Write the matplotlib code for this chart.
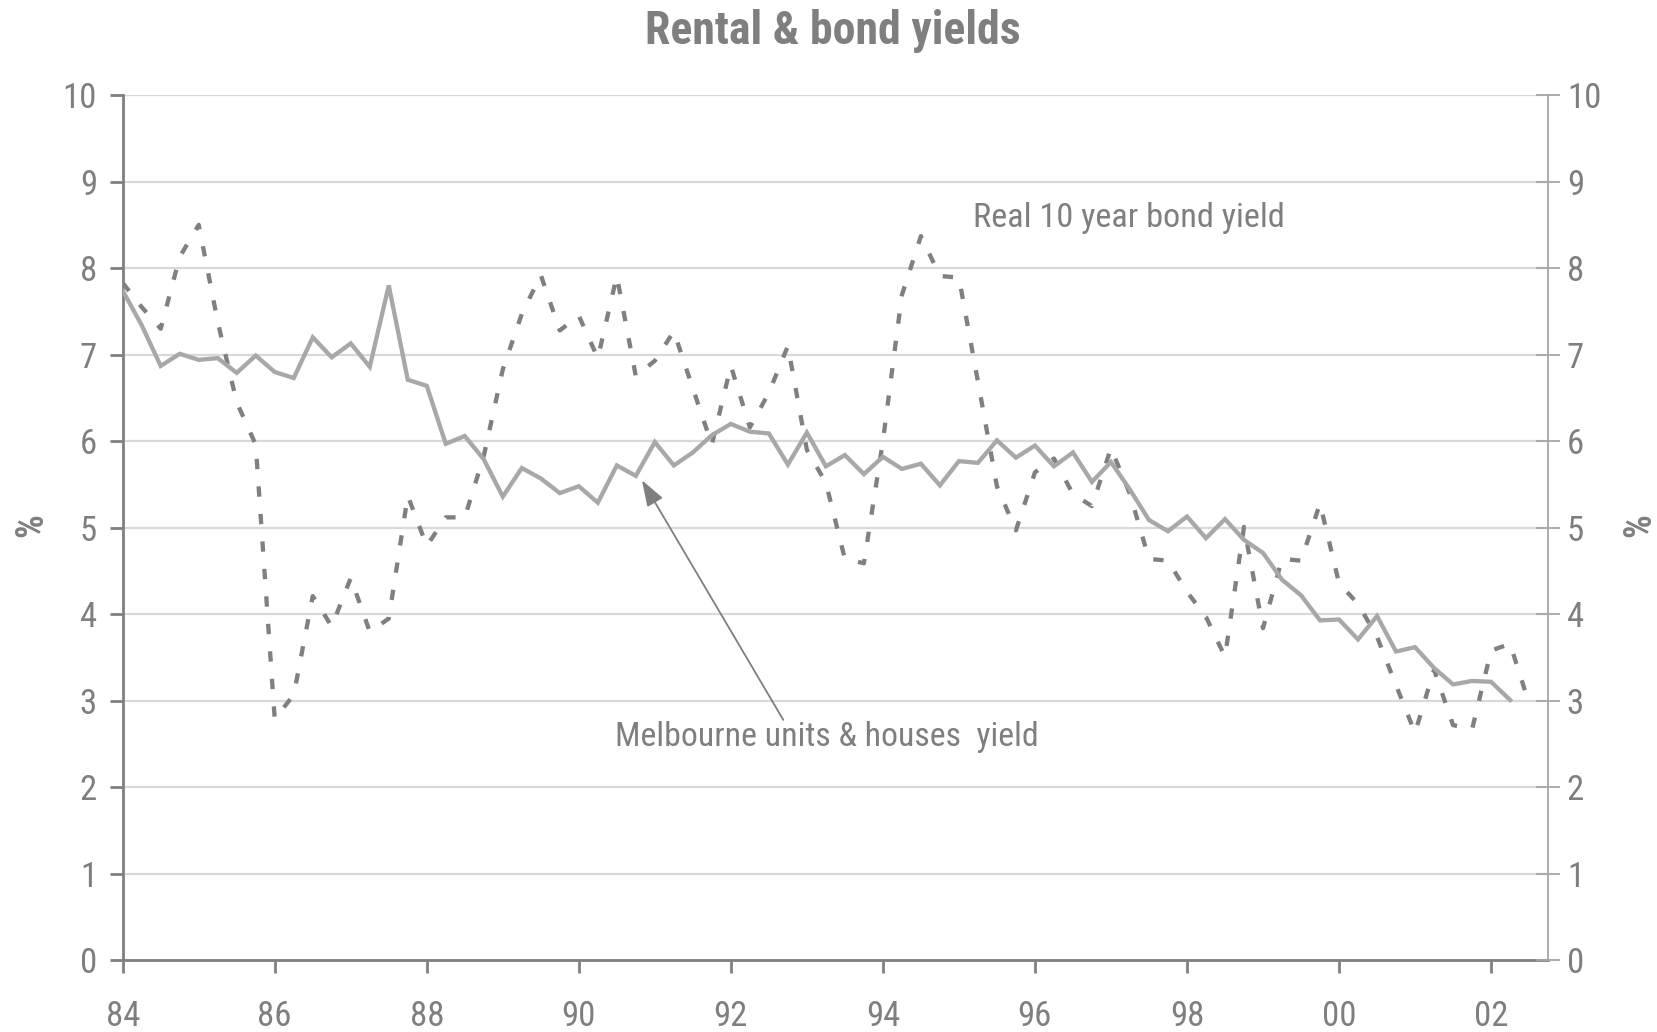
import numpy as np
import matplotlib
matplotlib.use("Agg")
import matplotlib.pyplot as plt
from matplotlib import font_manager

# Quarterly series starting 1984 Q1
start_year = 1984
melb_yield = [
    7.74, 7.34, 6.87, 7.01, 6.94, 6.96, 6.79, 6.99, 6.80, 6.73,
    7.20, 6.97, 7.13, 6.86, 7.80, 6.71, 6.64, 5.97, 6.06, 5.79,
    5.36, 5.69, 5.57, 5.40, 5.48, 5.29, 5.72, 5.60, 5.99, 5.72,
    5.87, 6.07, 6.20, 6.11, 6.09, 5.73, 6.10, 5.71, 5.84, 5.62,
    5.82, 5.68, 5.74, 5.49, 5.77, 5.75, 6.01, 5.81, 5.95, 5.71,
    5.87, 5.53, 5.76, 5.44, 5.09, 4.96, 5.13, 4.88, 5.10, 4.86,
    4.71, 4.40, 4.22, 3.93, 3.94, 3.71, 3.98, 3.57, 3.62, 3.38,
    3.19, 3.23, 3.22, 3.01,
]
bond_yield = [
    7.83, 7.55, 7.30, 8.13, 8.50, 7.38, 6.45, 5.96, 2.79, 3.07,
    4.21, 3.86, 4.42, 3.80, 3.95, 5.37, 4.79, 5.12, 5.12, 5.83,
    6.83, 7.47, 7.92, 7.28, 7.45, 6.96, 7.91, 6.75, 6.93, 7.27,
    6.61, 5.96, 6.87, 6.16, 6.56, 7.10, 5.90, 5.52, 4.64, 4.59,
    6.00, 7.69, 8.37, 7.91, 7.89, 6.69, 5.48, 4.97, 5.64, 5.80,
    5.39, 5.25, 5.92, 5.39, 4.64, 4.62, 4.26, 3.97, 3.51, 5.01,
    3.84, 4.64, 4.62, 5.28, 4.36, 4.12, 3.74, 3.18, 2.63, 3.36,
    2.72, 2.67, 3.58, 3.66, 2.97,
]
tick_years = [1984, 1986, 1988, 1990, 1992, 1994, 1996, 1998, 2000, 2002]
tick_labels = ["84", "86", "88", "90", "92", "94", "96", "98", "00", "02"]
y_ticks = list(range(0, 11))

# Pick a narrow sans face if one is installed
available = {f.name for f in font_manager.fontManager.ttflist}
family = "DejaVu Sans"
for cand in ["Liberation Sans Narrow", "Arial Narrow", "Roboto Condensed",
             "Open Sans Condensed", "Liberation Sans", "Roboto"]:
    if cand in available:
        family = cand
        break
plt.rcParams["font.family"] = [family, "DejaVu Sans"]

TEXT = "#7f7f7f"
GRID = "#d9d9d9"

x_melb = start_year + 0.25 * np.arange(len(melb_yield))
x_bond = start_year + 0.25 * np.arange(len(bond_yield))

fig = plt.figure(figsize=(16.58, 10.32), dpi=100)
ax = fig.add_axes([0.0740, 0.0693, 0.9337 - 0.0740, 0.9079 - 0.0693])

ax.set_xlim(1984, 2002.75)
ax.set_ylim(0, 10)

for v in y_ticks[1:]:
    ax.axhline(v, color=GRID, lw=1.6, zorder=0)

ax.plot(x_melb, melb_yield, color="#a8a8a8", lw=3.1, solid_joinstyle="miter",
        zorder=3)
ax.plot(x_bond, bond_yield, color="#808080", lw=3.1, dashes=(2.4, 4.0),
        zorder=2)

ax.set_xticks(tick_years)
ax.set_xticklabels(tick_labels)
ax.set_yticks(y_ticks)

for s in ["top", "right"]:
    ax.spines[s].set_visible(False)
for s in ["left", "bottom"]:
    ax.spines[s].set_color("#808080")
    ax.spines[s].set_linewidth(2.0)

ax.tick_params(axis="x", direction="out", length=9.5, width=2.0,
               color="#808080", labelsize=25, labelcolor=TEXT, pad=19)
ax.tick_params(axis="y", direction="out", length=9.5, width=2.0,
               color="#808080", labelsize=25, labelcolor=TEXT, pad=9)

ax2 = ax.twinx()
ax2.set_ylim(0, 10)
ax2.set_yticks(y_ticks)
for s in ["top", "left", "bottom"]:
    ax2.spines[s].set_visible(False)
ax2.spines["right"].set_color("#a6a6a6")
ax2.spines["right"].set_linewidth(1.3)
ax2.tick_params(axis="y", direction="inout", length=17, width=1.3,
                color="#a6a6a6", labelsize=25, labelcolor=TEXT, pad=5)

# Unit labels on both value axes
fig.text(0.0193, 0.4913, "%", fontsize=27, fontweight="bold", color=TEXT,
         rotation=90, ha="center", va="center")
fig.text(0.9891, 0.4913, "%", fontsize=27, fontweight="bold", color=TEXT,
         rotation=90, ha="center", va="center")

fig.text(0.502, 0.970, "Rental & bond yields", ha="center", va="center",
         fontsize=33, fontweight="bold", color=TEXT)

ax.text(1995.19, 8.58, "Real 10 year bond yield", fontsize=24.7, color=TEXT,
        ha="left", va="center")
ax.annotate("", xy=(1990.83, 5.55), xytext=(1992.69, 2.78),
            arrowprops=dict(arrowstyle="-|>,head_length=1.6,head_width=0.55",
                            color="#7f7f7f", lw=1.3, shrinkA=0, shrinkB=0))
ax.text(1990.48, 2.58, "Melbourne units & houses  yield", fontsize=24.3,
        color=TEXT, ha="left", va="center")

fig.savefig("out.png", dpi=100, facecolor="white")
